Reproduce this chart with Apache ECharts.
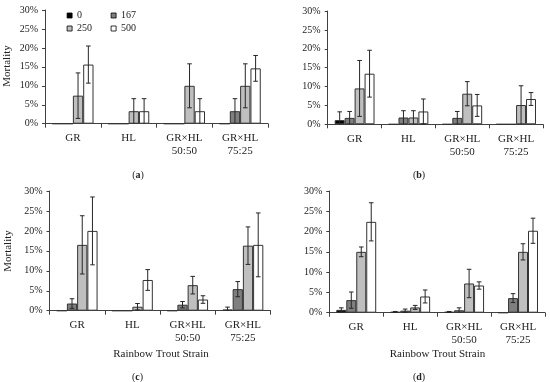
<!DOCTYPE html>
<html>
<head>
<meta charset="utf-8">
<script src="https://cdn.jsdelivr.net/npm/echarts@6/dist/echarts.min.js"></script>
<style>html,body{margin:0;padding:0;background:#fff}#c{width:550px;height:382px}</style>
</head>
<body>
<div id="c"></div>
<script>
// ---- data ----
const categories = ['GR', 'HL', 'GR×HL\n50:50', 'GR×HL\n75:25'];
const doses = ['0', '167', '250', '500'];
const yTickMax = 30, yTickStep = 5;

// panel (a)
const a0 = [0, 0, 0, 0];
const a167 = [0, 0, 0, 3.3];
const a250 = [7.4, 3.3, 10.0, 10.0];
const a500 = [15.6, 3.3, 3.3, 14.6];
const a0Err = [0, 0, 0, 0];
const a167Err = [0, 0, 0, 3.3];
const a250Err = [6.0, 3.3, 5.8, 5.8];
const a500Err = [4.9, 3.3, 3.3, 3.4];

// panel (b)
const b0 = [1.1, 0, 0, 0];
const b167 = [1.7, 1.8, 1.7, 0];
const b250 = [9.5, 1.8, 8.1, 5.1];
const b500 = [13.4, 3.4, 5.0, 6.7];
const b0Err = [2.2, 0, 0, 0];
const b167Err = [1.7, 1.8, 1.7, 0];
const b250Err = [7.4, 1.8, 3.2, 5.1];
const b500Err = [6.2, 3.3, 2.9, 1.7];

// panel (c)
const c0 = [0, 0, 0, 0.3];
const c167 = [1.8, 0, 1.5, 5.4];
const c250 = [16.5, 1.0, 6.4, 16.3];
const c500 = [20.0, 7.7, 2.8, 16.5];
const c0Err = [0, 0, 0, 0.6];
const c167Err = [1.2, 0, 0.8, 1.9];
const c250Err = [7.3, 0.8, 2.2, 4.7];
const c500Err = [8.5, 2.6, 0.95, 8.0];

// panel (d)
const d0 = [0.7, 0.2, 0.2, 0];
const d167 = [3.1, 0.5, 0.6, 3.6];
const d250 = [15.0, 1.3, 7.2, 15.0];
const d500 = [22.4, 4.0, 6.7, 20.2];
const d0Err = [0.5, 0.1, 0.1, 0];
const d167Err = [2.0, 0.4, 0.6, 1.1];
const d250Err = [1.2, 0.5, 3.5, 2.0];
const d500Err = [4.7, 1.6, 0.9, 3.1];

// ---- layout / style ----
const FONT = 'Liberation Serif';
const colors = ['#000000', '#7f7f7f', '#bfbfbf', '#ffffff'];
const CAT_GAP = 0.26;

const panels = [
  { grid: { left: 45, top: 10, width: 223, height: 113.7 }, means: [a0, a167, a250, a500], errs: [a0Err, a167Err, a250Err, a500Err] },
  { grid: { left: 327.7, top: 11, width: 215.3, height: 113.3 }, means: [b0, b167, b250, b500], errs: [b0Err, b167Err, b250Err, b500Err] },
  { grid: { left: 49.5, top: 191, width: 221, height: 119.7 }, means: [c0, c167, c250, c500], errs: [c0Err, c167Err, c250Err, c500Err] },
  { grid: { left: 329.3, top: 191, width: 215.7, height: 121.7 }, means: [d0, d167, d250, d500], errs: [d0Err, d167Err, d250Err, d500Err] }
];

const grids = [], xAxes = [], yAxes = [], series = [];
panels.forEach((p, pi) => {
  grids.push(Object.assign({ containLabel: false }, p.grid));
  xAxes.push({
    type: 'category', gridIndex: pi, data: categories,
    axisLine: { lineStyle: { color: '#404040', width: 1 } },
    axisTick: { show: true, length: 4, lineStyle: { color: '#404040' } },
    axisLabel: { fontFamily: FONT, fontSize: 11, color: '#222', margin: 8, lineHeight: 13, interval: 0 }
  });
  yAxes.push({
    type: 'value', gridIndex: pi, min: 0, max: yTickMax, interval: yTickStep,
    axisLine: { show: true, lineStyle: { color: '#404040', width: 1 } },
    axisTick: { show: true, length: 3, lineStyle: { color: '#404040' } },
    splitLine: { show: false },
    axisLabel: { fontFamily: FONT, fontSize: 10, color: '#222', margin: 7, formatter: '{value}%' }
  });
  doses.forEach((d, si) => {
    series.push({
      type: 'bar', name: d, xAxisIndex: pi, yAxisIndex: pi,
      data: p.means[si],
      barGap: '0%', barCategoryGap: (CAT_GAP * 100) + '%',
      itemStyle: { color: colors[si], borderColor: '#333', borderWidth: 1 },
      emphasis: { disabled: true },
      z: 2
    });
  });
  const errData = [];
  doses.forEach((d, si) => {
    p.means[si].forEach((m, ci) => {
      const e = p.errs[si][ci];
      if (e > 0) errData.push([ci, si, Math.max(0, m - e), m + e]);
    });
  });
  series.push({
    type: 'custom', xAxisIndex: pi, yAxisIndex: pi, z: 5,
    encode: { x: 0, y: [2, 3] },
    data: errData,
    renderItem: (params, api) => {
      const ci = api.value(0), si = api.value(1);
      const band = api.size([1, 0])[0];
      const bw = band * (1 - CAT_GAP) / 4;
      const x = api.coord([ci, 0])[0] + (si - 1.5) * bw;
      const lo = api.value(2);
      const yLo = api.coord([ci, lo])[1];
      const yHi = api.coord([ci, api.value(3)])[1];
      const h = 2.3;
      const style = { stroke: '#262626', lineWidth: 1 };
      const ch = [
        { type: 'line', shape: { x1: x, y1: yLo, x2: x, y2: yHi }, style },
        { type: 'line', shape: { x1: x - h, y1: yHi, x2: x + h, y2: yHi }, style }
      ];
      if (lo > 0) ch.push({ type: 'line', shape: { x1: x - h, y1: yLo, x2: x + h, y2: yLo }, style });
      return { type: 'group', children: ch };
    }
  });
});

const legendBase = {
  orient: 'vertical', itemWidth: 5, itemHeight: 5, itemGap: 3, icon: 'rect', padding: 0,
  itemStyle: { borderColor: '#000', borderWidth: 0.8 },
  textStyle: { fontFamily: FONT, fontSize: 10, color: '#222' },
  selectedMode: false
};

function label(txt, bold, x, y) {
  return {
    type: 'text', x: x, y: y,
    style: {
      text: '(' + '{b|' + bold + '})', textAlign: 'center', textVerticalAlign: 'middle',
      font: '10px ' + FONT, fill: '#222',
      rich: { b: { fontWeight: 'bold', fontFamily: FONT, fontSize: 10, fill: '#222' } }
    }
  };
}
function plain(txt, x, y, rot) {
  return {
    type: 'text', x: x, y: y, rotation: rot || 0,
    style: { text: txt, textAlign: 'center', textVerticalAlign: 'middle', font: '11px ' + FONT, fill: '#222' }
  };
}

const option = {
  animation: false,
  backgroundColor: '#fff',
  grid: grids, xAxis: xAxes, yAxis: yAxes, series: series,
  legend: [
    Object.assign({ left: 66.7, top: 10.5, data: ['0', '250'] }, legendBase),
    Object.assign({ left: 110.7, top: 10.5, data: ['167', '500'] }, legendBase)
  ],
  graphic: [
    label('(a)', 'a', 138, 175.7),
    label('(b)', 'b', 419, 175.7),
    label('(c)', 'c', 137.5, 377),
    label('(d)', 'd', 419, 377),
    plain('Mortality', 7.5, 66, Math.PI / 2),
    plain('Mortality', 8, 251, Math.PI / 2),
    plain('Rainbow Trout Strain', 161, 354),
    plain('Rainbow Trout Strain', 437.5, 354)
  ]
};

const chart = echarts.init(document.getElementById('c'), null, { renderer: 'canvas' });
chart.setOption(option);
</script>
</body>
</html>
